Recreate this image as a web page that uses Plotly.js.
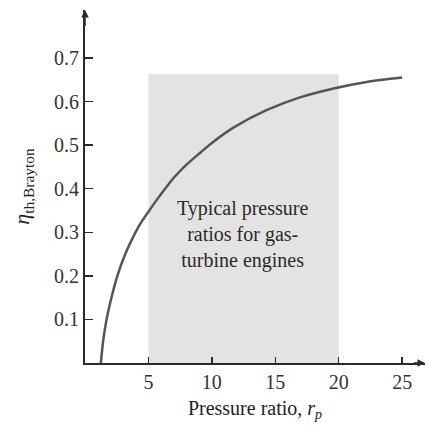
<!DOCTYPE html>
<html>
<head>
<meta charset="utf-8">
<script src="https://cdn.plot.ly/plotly-3.0.1.min.js"></script>
<style>html,body{margin:0;padding:0;background:#fff;}#chart{width:431px;height:428px;}</style>
</head>
<body>
<div id="chart"></div>
<script>
// Data
const pressureRatio = [1.25, 1.45, 1.7, 2.0, 2.55, 3.2, 3.95, 4.5, 5, 5.5, 6.45, 7, 8, 9.1, 10, 11.7, 14.3, 17, 19.6, 22.2, 25];
const efficiency    = [0.0, 0.055, 0.10, 0.14, 0.20, 0.252, 0.298, 0.326, 0.347, 0.368, 0.405, 0.425, 0.455, 0.483, 0.505, 0.540, 0.580, 0.610, 0.630, 0.645, 0.655];
const bandRange = [5, 20];
const bandTop = 0.663;
const xTicks = [5, 10, 15, 20, 25];
const yTicks = [0.1, 0.2, 0.3, 0.4, 0.5, 0.6, 0.7];
const yTickText = ['0.1', '0.2', '0.3', '0.4', '0.5', '0.6', '0.7'];
const bandLabel = 'Typical pressure<br>ratios for gas-<br>turbine engines';
const xRange = [0, 26.8];
const yRange = [0, 0.81];

const font = 'Liberation Serif, Times New Roman, serif';
const axisColor = '#2a2a2a';

const trace = {
  x: pressureRatio, y: efficiency, type: 'scatter', mode: 'lines',
  line: {color: '#555555', width: 2.5, shape: 'spline', smoothing: 0.8},
  hoverinfo: 'skip'
};

const layout = {
  width: 431, height: 428,
  margin: {l: 85, r: 6, t: 10, b: 65},
  paper_bgcolor: '#ffffff', plot_bgcolor: '#ffffff',
  showlegend: false,
  font: {family: font, size: 20, color: '#333333'},
  xaxis: {
    range: xRange, showgrid: false, zeroline: false,
    showline: true, linecolor: axisColor, linewidth: 2,
    ticks: 'inside', ticklen: 6, tickwidth: 1.5, tickcolor: axisColor,
    tickvals: xTicks, ticktext: xTicks.map(String),
    tickfont: {family: font, size: 20, color: '#333333'},
    title: {text: 'Pressure ratio, <i>r</i><sub><i>p</i></sub>', font: {family: font, size: 20, color: '#222222'}, standoff: 9}
  },
  yaxis: {
    range: yRange, showgrid: false, zeroline: false,
    showline: true, linecolor: axisColor, linewidth: 2,
    ticks: 'inside', ticklen: 8, tickwidth: 1.5, tickcolor: axisColor,
    tickvals: yTicks, ticktext: yTickText,
    tickfont: {family: font, size: 20, color: '#333333'},
    title: {text: '<i>η</i><sub>th,Brayton</sub>', font: {family: font, size: 22, color: '#222222'}, standoff: 18}
  },
  shapes: [{
    type: 'rect', xref: 'x', yref: 'y', layer: 'below',
    x0: bandRange[0], x1: bandRange[1], y0: 0, y1: bandTop,
    fillcolor: '#e3e3e3', line: {width: 0}
  }],
  annotations: [
    {x: (bandRange[0] + bandRange[1]) / 2 - 0.05, y: 0.294, xref: 'x', yref: 'y',
     text: bandLabel, showarrow: false, align: 'center',
     font: {family: font, size: 20, color: '#2a2a2a'}},
    {x: xRange[1], y: 0, ax: xRange[1] - 1, ay: 0, xref: 'x', yref: 'y', axref: 'x', ayref: 'y',
     text: '', showarrow: true, arrowhead: 2, arrowsize: 1, arrowwidth: 1.5, arrowcolor: axisColor},
    {x: 0, y: yRange[1], ax: 0, ay: yRange[1] - 0.04, xref: 'x', yref: 'y', axref: 'x', ayref: 'y',
     text: '', showarrow: true, arrowhead: 2, arrowsize: 1, arrowwidth: 1.5, arrowcolor: axisColor}
  ]
};

Plotly.newPlot('chart', [trace], layout, {staticPlot: true, displayModeBar: false});
</script>
</body>
</html>
